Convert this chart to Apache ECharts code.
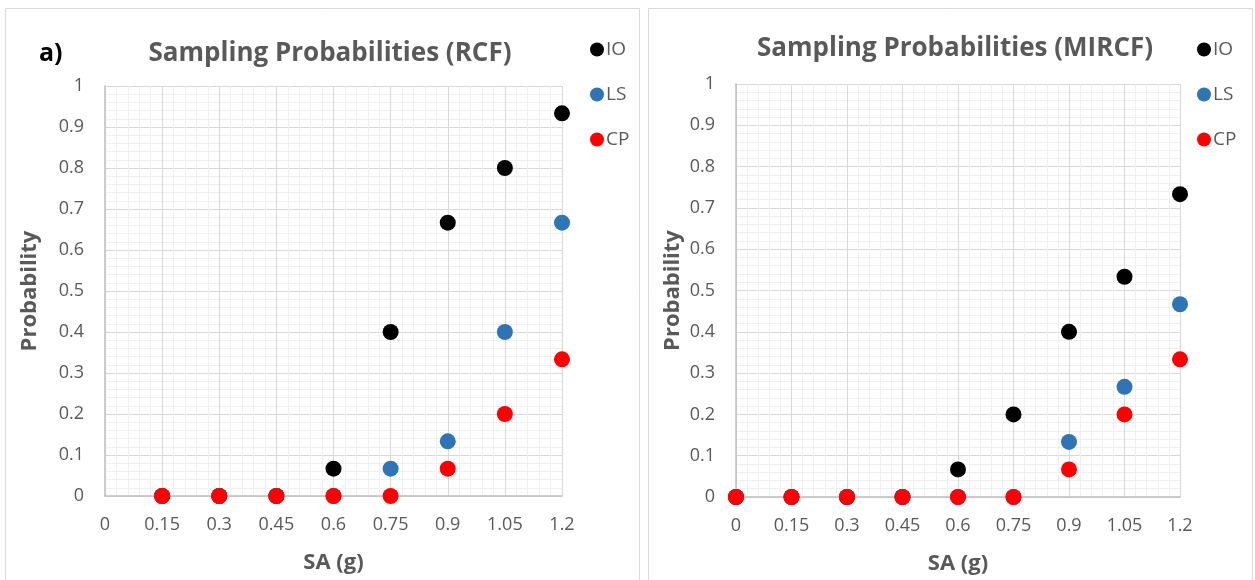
<!DOCTYPE html>
<html>
<head>
<meta charset="utf-8">
<script src="https://cdn.jsdelivr.net/npm/echarts@6/dist/echarts.min.js"></script>
<style>
  html, body { margin: 0; padding: 0; background: #ffffff; }
  #chart { width: 1255px; height: 580px; }
</style>
</head>
<body>
<div id="chart"></div>
<script>
// Spectral acceleration levels (g)
const saLevelsRCF = [0.15, 0.3, 0.45, 0.6, 0.75, 0.9, 1.05, 1.2];
const saLevelsMIRCF = [0, 0.15, 0.3, 0.45, 0.6, 0.75, 0.9, 1.05, 1.2];

// Damage-state sampling probabilities, RCF frame
const rcfIO = [0, 0, 0, 0.0667, 0.4, 0.6667, 0.8, 0.9333];
const rcfLS = [0, 0, 0, 0, 0.0667, 0.1333, 0.4, 0.6667];
const rcfCP = [0, 0, 0, 0, 0, 0.0667, 0.2, 0.3333];

// Damage-state sampling probabilities, MIRCF frame
const mircfIO = [0, 0, 0, 0, 0.0667, 0.2, 0.4, 0.5333, 0.7333];
const mircfLS = [0, 0, 0, 0, 0, 0, 0.1333, 0.2667, 0.4667];
const mircfCP = [0, 0, 0, 0, 0, 0, 0.0667, 0.2, 0.3333];

const xTickLabels = ['0', '0.15', '0.3', '0.45', '0.6', '0.75', '0.9', '1.05', '1.2'];
const stateNames = ['IO', 'LS', 'CP'];
const stateColors = ['#000000', '#2e75b6', '#ff0000'];

const textGrey = '#595959';
const fontFam = '"Open Sans", "Liberation Sans", sans-serif';

function pairs(xs, ys) { return xs.map((x, i) => [x, ys[i]]); }

function xAxisFor(gridIndex) {
  return {
    type: 'value', gridIndex, min: 0, max: 1.2, interval: 0.15,
    name: 'SA (g)', nameLocation: 'middle', nameGap: 56,
    nameTextStyle: { color: textGrey, fontSize: 22, fontWeight: 'bold', fontFamily: fontFam },
    axisLine: { show: true, lineStyle: { color: '#bfbfbf', width: 1.5 } },
    axisTick: { show: false },
    axisLabel: {
      color: textGrey, fontSize: 18, fontFamily: fontFam, margin: 20,
      formatter: v => xTickLabels[Math.round(v / 0.15)]
    },
    splitLine: { show: true, lineStyle: { color: '#d9d9d9', width: 1 } },
    minorTick: { show: false, splitNumber: 5 },
    minorSplitLine: { show: true, lineStyle: { color: '#f0f0f0', width: 1 } }
  };
}

function yAxisFor(gridIndex, gap) {
  return {
    type: 'value', gridIndex, min: 0, max: 1, interval: 0.1,
    name: 'Probability', nameLocation: 'middle', nameGap: gap,
    nameTextStyle: { color: textGrey, fontSize: 22, fontWeight: 'bold', fontFamily: fontFam },
    axisLine: { show: true, lineStyle: { color: '#bfbfbf', width: 1.5 } },
    axisTick: { show: false },
    axisLabel: {
      color: textGrey, fontSize: 18, fontFamily: fontFam, margin: 21,
      formatter: v => String(Math.round(v * 10) / 10)
    },
    splitLine: { show: true, lineStyle: { color: '#d9d9d9', width: 1 } },
    minorTick: { show: false, splitNumber: 5 },
    minorSplitLine: { show: true, lineStyle: { color: '#f0f0f0', width: 1 } }
  };
}

function scatter(name, idx, data, color) {
  return {
    name, type: 'scatter', xAxisIndex: idx, yAxisIndex: idx,
    data, symbol: 'circle', symbolSize: 16,
    itemStyle: { color, opacity: 1 }
  };
}

function legendAt(left) {
  return {
    orient: 'vertical', left, top: 35, itemGap: 26,
    icon: 'circle', itemWidth: 14, itemHeight: 14,
    textStyle: { color: textGrey, fontSize: 19, fontFamily: fontFam, padding: [0, 0, 0, -3] },
    data: stateNames
  };
}

const chart = echarts.init(document.getElementById('chart'), null, { renderer: 'canvas' });

chart.setOption({
  animation: false,
  backgroundColor: '#ffffff',
  graphic: [
    { type: 'rect', shape: { x: 5.5, y: 8.5, width: 634, height: 590 },
      style: { fill: 'none', stroke: '#d9d9d9', lineWidth: 1 }, silent: true },
    { type: 'rect', shape: { x: 648.5, y: 8.5, width: 604, height: 590 },
      style: { fill: 'none', stroke: '#d9d9d9', lineWidth: 1 }, silent: true },
    { type: 'text', left: 39, top: 41,
      style: { text: 'a)', fill: '#000000', fontSize: 25, fontWeight: 'bold', fontFamily: fontFam } }
  ],
  title: [
    { text: 'Sampling Probabilities (RCF)', left: 325, top: 36, textAlign: 'center',
      textStyle: { color: textGrey, fontSize: 26, fontWeight: 'bold', fontFamily: fontFam } },
    { text: 'Sampling Probabilities (MIRCF)', left: 950, top: 31, textAlign: 'center',
      textStyle: { color: textGrey, fontSize: 26, fontWeight: 'bold', fontFamily: fontFam } }
  ],
  legend: [legendAt(585), legendAt(1192)],
  grid: [
    { left: 105, top: 86, width: 457, height: 410 },
    { left: 736, top: 84, width: 444, height: 419 }
  ],
  xAxis: [xAxisFor(0), xAxisFor(1)],
  yAxis: [yAxisFor(0, 64), yAxisFor(1, 52)],
  series: [
    scatter('IO', 0, pairs(saLevelsRCF, rcfIO), stateColors[0]),
    scatter('LS', 0, pairs(saLevelsRCF, rcfLS), stateColors[1]),
    scatter('CP', 0, pairs(saLevelsRCF, rcfCP), stateColors[2]),
    scatter('IO', 1, pairs(saLevelsMIRCF, mircfIO), stateColors[0]),
    scatter('LS', 1, pairs(saLevelsMIRCF, mircfLS), stateColors[1]),
    scatter('CP', 1, pairs(saLevelsMIRCF, mircfCP), stateColors[2])
  ]
});
</script>
</body>
</html>
